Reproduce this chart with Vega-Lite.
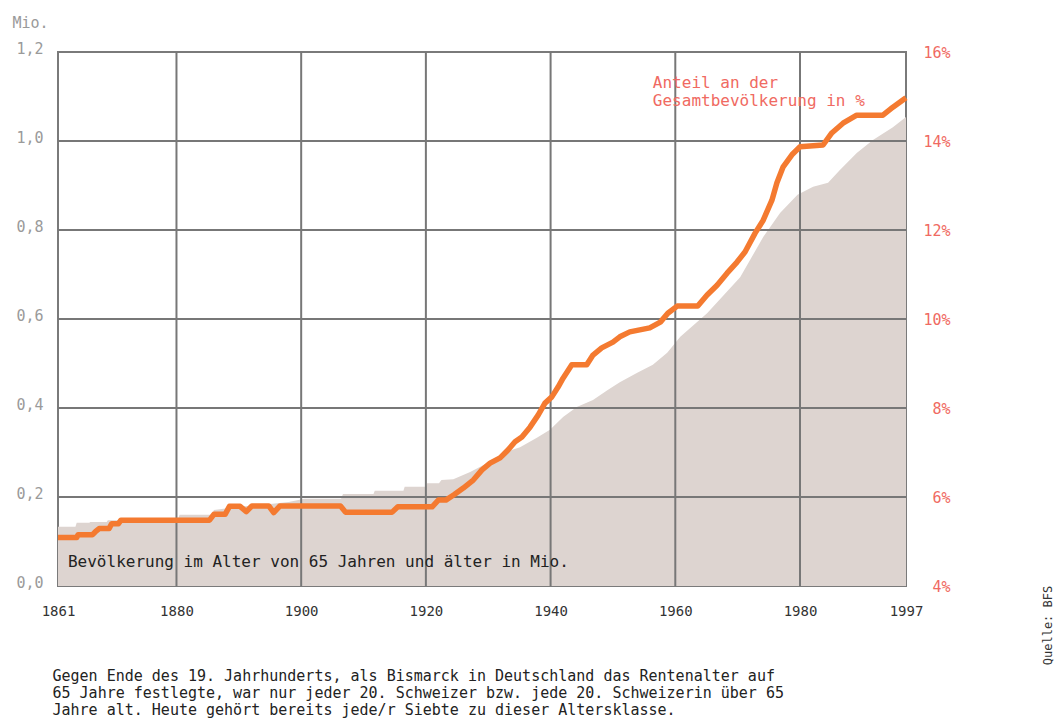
{
  "$schema": "https://vega.github.io/schema/vega-lite/v6.json",
  "width": 848,
  "height": 534,
  "autosize": "none",
  "padding": {"left": 58, "top": 52, "right": 148, "bottom": 141},
  "background": "white",
  "config": {
    "view": {"stroke": "#7a7a7a", "strokeWidth": 2},
    "font": "DejaVu Sans Mono"
  },
  "datasets": {
    "pop": [
      {"year": 1861, "mio": 0.133}, {"year": 1863.8, "mio": 0.133}, {"year": 1864, "mio": 0.142}, {"year": 1866, "mio": 0.142},
      {"year": 1866.2, "mio": 0.144}, {"year": 1868.8, "mio": 0.144}, {"year": 1869, "mio": 0.148}, {"year": 1870.8, "mio": 0.148},
      {"year": 1871, "mio": 0.153}, {"year": 1880.3, "mio": 0.153}, {"year": 1880.5, "mio": 0.16}, {"year": 1885.8, "mio": 0.16},
      {"year": 1886, "mio": 0.171}, {"year": 1890, "mio": 0.178}, {"year": 1895, "mio": 0.184}, {"year": 1898, "mio": 0.189},
      {"year": 1900.5, "mio": 0.196}, {"year": 1906.4, "mio": 0.196}, {"year": 1906.7, "mio": 0.207}, {"year": 1911.6, "mio": 0.207},
      {"year": 1911.8, "mio": 0.214}, {"year": 1916.4, "mio": 0.214}, {"year": 1916.6, "mio": 0.223}, {"year": 1920, "mio": 0.223},
      {"year": 1920.2, "mio": 0.231}, {"year": 1922.1, "mio": 0.231}, {"year": 1922.5, "mio": 0.238}, {"year": 1924.4, "mio": 0.24},
      {"year": 1927.1, "mio": 0.256}, {"year": 1929.8, "mio": 0.276}, {"year": 1932.4, "mio": 0.299}, {"year": 1935.1, "mio": 0.312},
      {"year": 1937.8, "mio": 0.333}, {"year": 1939.9, "mio": 0.351}, {"year": 1942, "mio": 0.38}, {"year": 1944.2, "mio": 0.402},
      {"year": 1946.8, "mio": 0.418}, {"year": 1949.1, "mio": 0.44}, {"year": 1951.1, "mio": 0.458}, {"year": 1953.9, "mio": 0.479},
      {"year": 1956.4, "mio": 0.497}, {"year": 1958.7, "mio": 0.524}, {"year": 1960.8, "mio": 0.56}, {"year": 1965.1, "mio": 0.613},
      {"year": 1970.4, "mio": 0.694}, {"year": 1974.1, "mio": 0.784}, {"year": 1976.8, "mio": 0.838}, {"year": 1979.6, "mio": 0.879},
      {"year": 1982.1, "mio": 0.897}, {"year": 1984.5, "mio": 0.906}, {"year": 1986.4, "mio": 0.935}, {"year": 1989.1, "mio": 0.973},
      {"year": 1991.7, "mio": 1.002}, {"year": 1994.9, "mio": 1.031}, {"year": 1997, "mio": 1.054}
    ],
    "share": [
      {"year": 1861, "pct": 5.09}, {"year": 1864, "pct": 5.09}, {"year": 1864.2, "pct": 5.15}, {"year": 1866.5, "pct": 5.15},
      {"year": 1867, "pct": 5.22}, {"year": 1867.6, "pct": 5.29}, {"year": 1869.2, "pct": 5.29}, {"year": 1869.6, "pct": 5.4},
      {"year": 1870.7, "pct": 5.4}, {"year": 1871.1, "pct": 5.48}, {"year": 1885.3, "pct": 5.48}, {"year": 1886, "pct": 5.61},
      {"year": 1887.8, "pct": 5.61}, {"year": 1888.5, "pct": 5.79}, {"year": 1890.2, "pct": 5.79}, {"year": 1891.2, "pct": 5.67},
      {"year": 1892.1, "pct": 5.8}, {"year": 1894.8, "pct": 5.8}, {"year": 1895.6, "pct": 5.65}, {"year": 1896.6, "pct": 5.8},
      {"year": 1906.3, "pct": 5.8}, {"year": 1907.1, "pct": 5.66}, {"year": 1914.6, "pct": 5.66}, {"year": 1915.5, "pct": 5.78},
      {"year": 1921, "pct": 5.78}, {"year": 1922, "pct": 5.93}, {"year": 1923.2, "pct": 5.93}, {"year": 1924.5, "pct": 6.05},
      {"year": 1926, "pct": 6.2}, {"year": 1927.6, "pct": 6.38}, {"year": 1929, "pct": 6.61}, {"year": 1930.3, "pct": 6.76},
      {"year": 1931.9, "pct": 6.88}, {"year": 1933.2, "pct": 7.06}, {"year": 1934.3, "pct": 7.24}, {"year": 1935.4, "pct": 7.35},
      {"year": 1936.7, "pct": 7.57}, {"year": 1938, "pct": 7.84}, {"year": 1939.1, "pct": 8.11}, {"year": 1940.2, "pct": 8.25},
      {"year": 1941.2, "pct": 8.47}, {"year": 1942, "pct": 8.67}, {"year": 1943.4, "pct": 8.97}, {"year": 1945.8, "pct": 8.97},
      {"year": 1946.8, "pct": 9.19}, {"year": 1948.2, "pct": 9.35}, {"year": 1950, "pct": 9.48}, {"year": 1951.1, "pct": 9.6},
      {"year": 1952.7, "pct": 9.71}, {"year": 1955.9, "pct": 9.8}, {"year": 1957.6, "pct": 9.93}, {"year": 1958.8, "pct": 10.13},
      {"year": 1960.3, "pct": 10.29}, {"year": 1963.6, "pct": 10.29}, {"year": 1965.1, "pct": 10.54}, {"year": 1966.7, "pct": 10.76},
      {"year": 1968.3, "pct": 11.03}, {"year": 1969.9, "pct": 11.28}, {"year": 1971.2, "pct": 11.51}, {"year": 1972.8, "pct": 11.93},
      {"year": 1974.1, "pct": 12.22}, {"year": 1975.5, "pct": 12.67}, {"year": 1976.3, "pct": 13.06}, {"year": 1977.3, "pct": 13.42},
      {"year": 1978.7, "pct": 13.69}, {"year": 1980, "pct": 13.87}, {"year": 1983.7, "pct": 13.91}, {"year": 1985.1, "pct": 14.18},
      {"year": 1986.9, "pct": 14.4}, {"year": 1989.1, "pct": 14.58}, {"year": 1993.3, "pct": 14.58}, {"year": 1994.9, "pct": 14.76},
      {"year": 1996.5, "pct": 14.92}, {"year": 1997, "pct": 14.97}
    ]
  },
  "layer": [
    {
      "data": {"name": "pop"},
      "mark": {"type": "area", "color": "#ddd4d0", "interpolate": "linear"},
      "encoding": {
        "x": {
          "field": "year", "type": "quantitative",
          "scale": {"domain": [1861, 1997], "nice": false, "zero": false},
          "axis": {
            "values": [1861, 1880, 1900, 1920, 1940, 1960, 1980, 1997],
            "format": "d", "ticks": false, "domain": false, "grid": false,
            "labelFlush": false, "labelFontSize": 14, "labelColor": "#333333",
            "labelPadding": 18, "labelFont": "DejaVu Sans Mono",
            "title": [
              "Gegen Ende des 19. Jahrhunderts, als Bismarck in Deutschland das Rentenalter auf",
              "65 Jahre festlegte, war nur jeder 20. Schweizer bzw. jede 20. Schweizerin über 65",
              "Jahre alt. Heute gehört bereits jede/r Siebte zu dieser Altersklasse."
            ],
            "titleFont": "DejaVu Sans Mono", "titleFontSize": 15, "titleFontWeight": "normal",
            "titleColor": "#222222", "titleLineHeight": 17, "titleAlign": "left",
            "titleBaseline": "top", "titleAnchor": "start", "titleX": -6, "titleY": 82
          }
        },
        "y": {
          "field": "mio", "type": "quantitative",
          "scale": {"domain": [0, 1.2], "nice": false},
          "axis": {
            "orient": "left",
            "values": [0, 0.2, 0.4, 0.6, 0.8, 1.0, 1.2],
            "labelExpr": "replace(format(datum.value, '.1f'), '.', ',')",
            "ticks": false, "domain": false, "grid": false,
            "labelFontSize": 15, "labelColor": "#9a9a9a", "labelPadding": 15,
            "labelOffset": -4, "labelFont": "DejaVu Sans Mono",
            "title": "Mio.", "titleAngle": 0, "titleX": -46, "titleY": -30,
            "titleAlign": "left", "titleBaseline": "middle", "titleFontWeight": "normal",
            "titleFontSize": 15, "titleColor": "#9a9a9a", "titleFont": "DejaVu Sans Mono"
          }
        }
      }
    },
    {
      "data": {"values": [{"year": 1880}, {"year": 1900}, {"year": 1920}, {"year": 1940}, {"year": 1960}, {"year": 1980}]},
      "mark": {"type": "rule", "color": "#777777", "strokeWidth": 2},
      "encoding": {
        "x": {"field": "year", "type": "quantitative", "scale": {"domain": [1861, 1997], "nice": false, "zero": false}}
      }
    },
    {
      "data": {"values": [{"v": 0.2}, {"v": 0.4}, {"v": 0.6}, {"v": 0.8}, {"v": 1.0}]},
      "mark": {"type": "rule", "color": "#777777", "strokeWidth": 2},
      "encoding": {
        "y": {"field": "v", "type": "quantitative", "scale": {"domain": [0, 1.2], "nice": false}, "axis": null}
      }
    },
    {
      "data": {"name": "share"},
      "mark": {"type": "line", "color": "#f47a30", "strokeWidth": 5.5, "strokeJoin": "round", "strokeCap": "butt"},
      "encoding": {
        "x": {"field": "year", "type": "quantitative", "scale": {"domain": [1861, 1997], "nice": false, "zero": false}},
        "y": {
          "field": "pct", "type": "quantitative",
          "scale": {"domain": [4, 16], "nice": false, "zero": false},
          "axis": {
            "orient": "right",
            "values": [4, 6, 8, 10, 12, 14, 16],
            "labelExpr": "datum.value + '%'",
            "ticks": false, "domain": false, "grid": false,
            "labelFontSize": 15, "labelColor": "#f06a62", "labelAlign": "right",
            "labelPadding": 44, "labelFont": "DejaVu Sans Mono",
            "title": "Quelle: BFS", "titleAngle": 270, "titleX": 141, "titleY": 573,
            "titleAlign": "center", "titleBaseline": "middle", "titleFontWeight": "normal",
            "titleFontSize": 12, "titleColor": "#333333", "titleFont": "DejaVu Sans Mono"
          }
        }
      }
    },
    {
      "data": {"values": [{"year": 1862.6, "mio": 0.054, "label": "Bevölkerung im Alter von 65 Jahren und älter in Mio."}]},
      "mark": {"type": "text", "align": "left", "baseline": "middle", "fontSize": 16, "color": "#222222", "font": "DejaVu Sans Mono"},
      "encoding": {
        "x": {"field": "year", "type": "quantitative", "scale": {"domain": [1861, 1997], "nice": false, "zero": false}},
        "y": {"field": "mio", "type": "quantitative", "scale": {"domain": [0, 1.2], "nice": false}, "axis": null},
        "text": {"field": "label"}
      }
    },
    {
      "data": {"values": [
        {"year": 1956.4, "mio": 1.130, "label": "Anteil an der"},
        {"year": 1956.4, "mio": 1.090, "label": "Gesamtbevölkerung in %"}
      ]},
      "mark": {"type": "text", "align": "left", "baseline": "middle", "fontSize": 16, "color": "#f06a62", "font": "DejaVu Sans Mono"},
      "encoding": {
        "x": {"field": "year", "type": "quantitative", "scale": {"domain": [1861, 1997], "nice": false, "zero": false}},
        "y": {"field": "mio", "type": "quantitative", "scale": {"domain": [0, 1.2], "nice": false}, "axis": null},
        "text": {"field": "label"}
      }
    }
  ],
  "resolve": {"scale": {"y": "independent"}}
}
